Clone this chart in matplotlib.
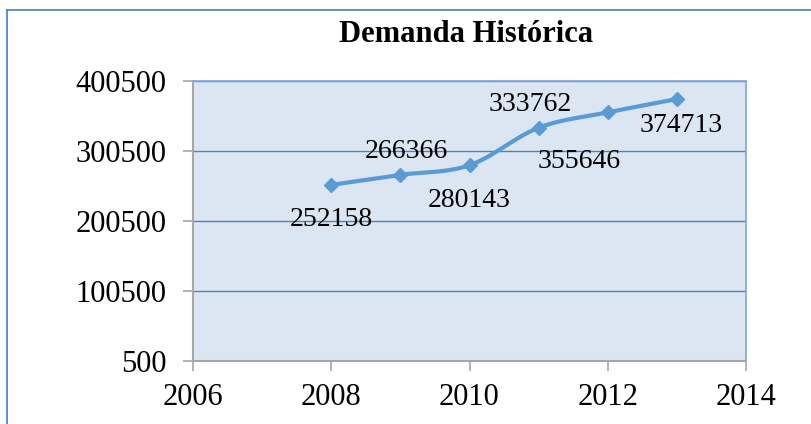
import matplotlib.pyplot as plt
import numpy as np
from matplotlib.lines import Line2D

anios = [2008, 2009, 2010, 2011, 2012, 2013]
demanda = [252158, 266366, 280143, 333762, 355646, 374713]
# desplazamiento de cada etiqueta (pixeles)
desplaz = [(0, -35), (6, 23), (0, -35), (-8, 23), (-29, -49), (4, -26)]

yticks = [500, 100500, 200500, 300500, 400500]
xticks = [2006, 2008, 2010, 2012, 2014]

plt.rcParams['font.family'] = ['Liberation Serif', 'DejaVu Serif']

azul_linea = '#5b9bd5'
azul_grid = '#4f81bd'
gris = '#a6a6a6'


def suavizar(x, y, n=30):
  # curva tipo Catmull-Rom entre los puntos
  x = np.asarray(x, float)
  y = np.asarray(y, float)
  px = np.concatenate([[2 * x[0] - x[1]], x, [2 * x[-1] - x[-2]]])
  py = np.concatenate([[2 * y[0] - y[1]], y, [2 * y[-1] - y[-2]]])
  xs, ys = [], []
  t = np.linspace(0, 1, n)
  for i in range(1, len(px) - 2):
    for p, out in ((px, xs), (py, ys)):
      p0, p1, p2, p3 = p[i - 1], p[i], p[i + 1], p[i + 2]
      c = 0.5 * ((2 * p1) + (-p0 + p2) * t + (2 * p0 - 5 * p1 + 4 * p2 - p3) * t ** 2
                 + (-p0 + 3 * p1 - 3 * p2 + p3) * t ** 3)
      out.extend(c)
  return xs, ys


fig = plt.figure(figsize=(8.11, 4.24), dpi=100)
ax = fig.add_axes([193 / 811, 63 / 424, 553 / 811, 280 / 424])
ax.set_facecolor('#dce6f2')

# marco exterior del grafico
fig.add_artist(Line2D([7 / 811, 1], [1 - 10 / 424, 1 - 10 / 424], color='#4a7ebb', lw=1.2))
fig.add_artist(Line2D([7 / 811, 7 / 811], [0, 1 - 10 / 424], color='#4a7ebb', lw=1.2))

sx, sy = suavizar(anios, demanda)
ax.plot(sx, sy, color=azul_linea, lw=3, zorder=3)
ax.plot(anios, demanda, 'D', color=azul_linea, ms=7, zorder=4)

for a, d, (dx, dy) in zip(anios, demanda, desplaz):
  ax.annotate(str(d), (a, d), xytext=(dx, dy), textcoords='offset pixels',
              ha='center', va='center', fontsize=20, zorder=5)

ax.set_xlim(2006, 2014)
ax.set_ylim(500, 400500)
ax.set_xticks(xticks)
ax.set_yticks(yticks)
ax.tick_params(axis='both', labelsize=22, color=gris, length=7, width=1.2, direction='out')
ax.tick_params(axis='x', pad=9)
ax.tick_params(axis='y', pad=12)
ax.yaxis.grid(True, color=azul_grid, lw=1)
ax.set_axisbelow(True)

for lado in ['top', 'right']:
  ax.spines[lado].set_color('#7ea6d9')
  ax.spines[lado].set_linewidth(1.2)
for lado in ['left', 'bottom']:
  ax.spines[lado].set_color(gris)
  ax.spines[lado].set_linewidth(1.5)

fig.text(466 / 811, 1 - 34 / 424, 'Demanda Histórica', ha='center', va='center',
         fontsize=22, fontweight='bold')

fig.savefig('out.png', dpi=100)
